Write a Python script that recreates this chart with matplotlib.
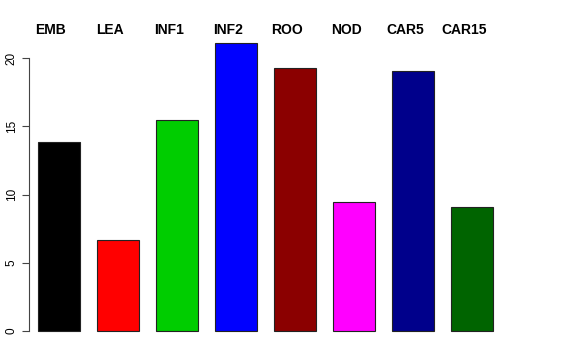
import matplotlib
matplotlib.use("Agg")
import matplotlib.pyplot as plt
import numpy as np

# Data
tissues = ["EMB", "LEA", "INF1", "INF2", "ROO", "NOD", "CAR5", "CAR15"]
values = [13.86, 6.67, 15.47, 21.1, 19.28, 9.46, 19.06, 9.09]
colors = ["#000000", "#FF0000", "#00CD00", "#0000FF",
          "#8B0000", "#FF00FF", "#00008B", "#006400"]
yticks = [0, 5, 10, 15, 20]

plt.rcParams['font.family'] = ['Liberation Sans', 'DejaVu Sans']

fig = plt.figure(figsize=(5.76, 3.6), dpi=100)
W, H = 576, 360
left, right, top, bottom = 29, 502, 31.5, 342.5
ax = fig.add_axes([left / W, 1 - bottom / H, (right - left) / W, (bottom - top) / H])

x = np.arange(len(tissues))
width = 42 / 59
ax.bar(x, values, width=width, color=colors, edgecolor="#222222", linewidth=0.8)

ymax = max(values)
ax.set_ylim(-0.04 * ymax, ymax * 1.04)
ax.set_xlim(-0.508, len(tissues) - 1 + 0.508)

# labels above the plot (baseline at about pixel row 34)
label_y = (bottom - 34) / (bottom - top)
for xi, name in zip(x, tissues):
    ax.text(xi - 8 / 59, label_y, name, transform=ax.get_xaxis_transform(),
            ha="center", va="baseline", fontsize=10, fontweight="bold")

for s in ["top", "right", "bottom"]:
    ax.spines[s].set_visible(False)
ax.spines["left"].set_bounds(0, 20)
ax.spines["left"].set_color("#444444")
ax.set_xticks([])
ax.set_yticks(yticks)
ax.set_yticklabels([str(t) for t in yticks], rotation=90, va="center", fontsize=8.5)
ax.tick_params(axis="y", length=5, width=0.8, color="#444444", pad=3)

fig.savefig("out.png", dpi=100)
